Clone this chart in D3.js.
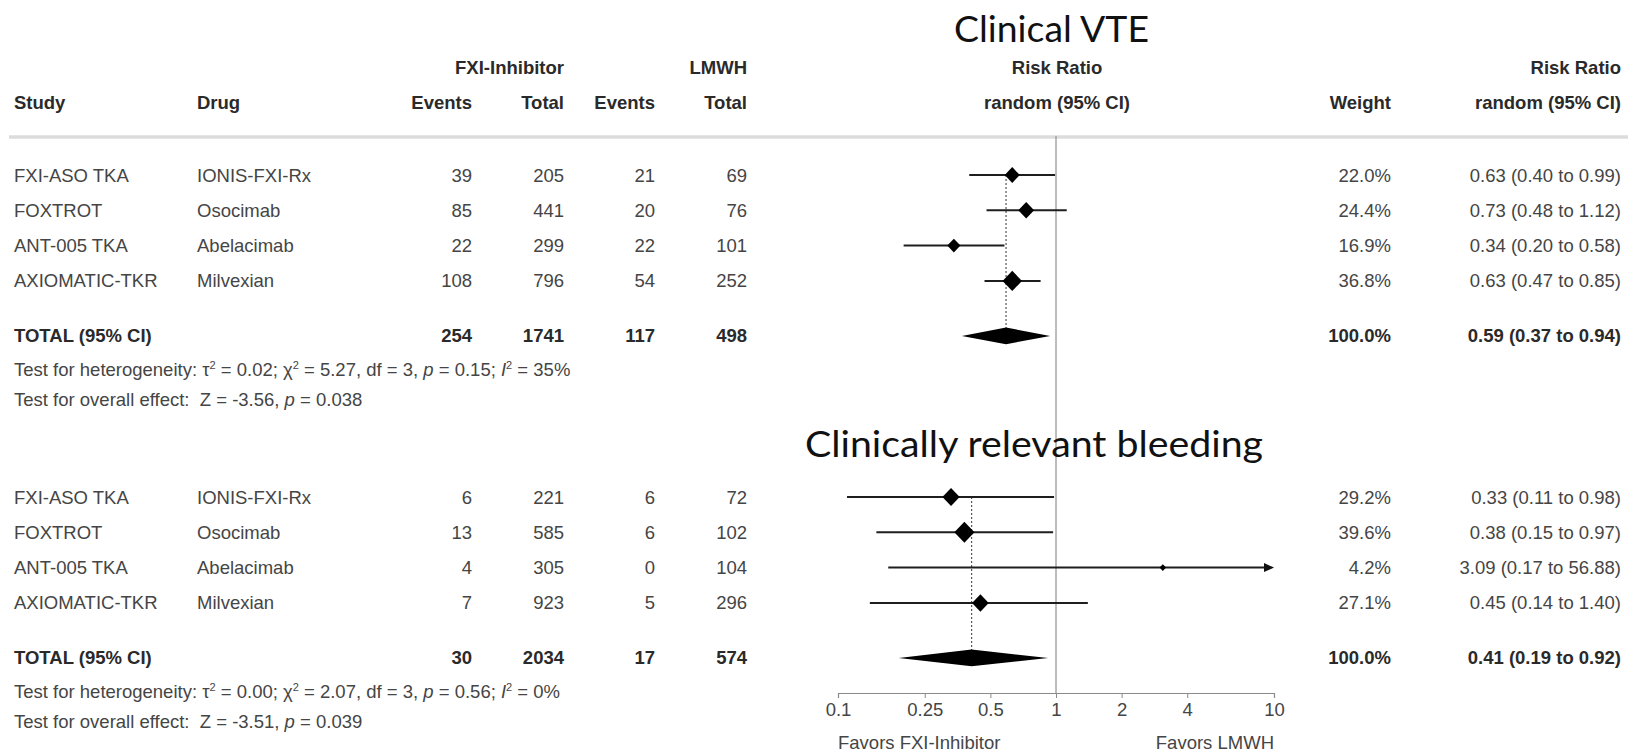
<!DOCTYPE html>
<html>
<head>
<meta charset="utf-8">
<script src="https://cdn.jsdelivr.net/npm/d3@7"></script>
<style>
  html, body { margin: 0; padding: 0; background: #fff; }
  svg { display: block; }
</style>
</head>
<body>
<svg id="chart" width="1628" height="754"></svg>
<script>
// ---------------- DATA ----------------
const studies = ["FXI-ASO TKA", "FOXTROT", "ANT-005 TKA", "AXIOMATIC-TKR"];
const drugs = ["IONIS-FXI-Rx", "Osocimab", "Abelacimab", "Milvexian"];
const outcomeTitles = ["Clinical VTE", "Clinically relevant bleeding"];
const tickValues = [0.1, 0.25, 0.5, 1, 2, 4, 10];
const tickLabels = ["0.1", "0.25", "0.5", "1", "2", "4", "10"];

// Clinical VTE
const vteEventsFxi = [39, 85, 22, 108];
const vteTotalFxi = [205, 441, 299, 796];
const vteEventsLmwh = [21, 20, 22, 54];
const vteTotalLmwh = [69, 76, 101, 252];
const vteRR = [0.63, 0.73, 0.34, 0.63];
const vteLo = [0.40, 0.48, 0.20, 0.47];
const vteHi = [0.99, 1.12, 0.58, 0.85];
const vteWeight = [22.0, 24.4, 16.9, 36.8];
const vteSum = [254, 1741, 117, 498];
const vtePooled = [0.59, 0.37, 0.94];
const vteHet = { tau2: "0.02", chi2: "5.27", df: "3", p: "0.15", i2: "35%" };
const vteOverall = { z: "-3.56", p: "0.038" };

// Clinically relevant bleeding
const blEventsFxi = [6, 13, 4, 7];
const blTotalFxi = [221, 585, 305, 923];
const blEventsLmwh = [6, 6, 0, 5];
const blTotalLmwh = [72, 102, 104, 296];
const blRR = [0.33, 0.38, 3.09, 0.45];
const blLo = [0.11, 0.15, 0.17, 0.14];
const blHi = [0.98, 0.97, 56.88, 1.40];
const blWeight = [29.2, 39.6, 4.2, 27.1];
const blSum = [30, 2034, 17, 574];
const blPooled = [0.41, 0.19, 0.92];
const blHet = { tau2: "0.00", chi2: "2.07", df: "3", p: "0.56", i2: "0%" };
const blOverall = { z: "-3.51", p: "0.039" };

// ---------------- LAYOUT ----------------
const FONT = "'Liberation Sans', Arial, sans-serif";
const FS = 18.5;
const BASE = 6.5; // center -> baseline offset
const BODY = "#454545";
const HEAD = "#2a2a2a";

const svg = d3.select("#chart");
svg.append("rect").attr("width", 1628).attr("height", 754).attr("fill", "#fff");

const x = d3.scaleLog().domain([0.1, 10]).range([838, 1274]);

const col = { study: 14, drug: 197, evF: 472, totF: 564, evL: 655, totL: 747, plot: 1057, weight: 1391, rr: 1621 };

function txt(g, xx, yc, s, opt = {}) {
  return g.append("text")
    .attr("x", xx).attr("y", yc + BASE)
    .attr("text-anchor", opt.anchor || "start")
    .attr("font-family", FONT)
    .attr("font-size", opt.size || FS)
    .attr("font-weight", opt.bold ? "bold" : "normal")
    .attr("fill", opt.fill || (opt.bold ? HEAD : BODY))
    .style("white-space", "pre")
    .text(s);
}

// ---------------- HEADER ----------------
const hdr = svg.append("g");
txt(hdr, col.totF, 67, "FXI-Inhibitor", { anchor: "end", bold: true });
txt(hdr, col.totL, 67, "LMWH", { anchor: "end", bold: true });
txt(hdr, col.plot, 67, "Risk Ratio", { anchor: "middle", bold: true });
txt(hdr, col.rr, 67, "Risk Ratio", { anchor: "end", bold: true });
txt(hdr, col.study, 102, "Study", { bold: true });
txt(hdr, col.drug, 102, "Drug", { bold: true });
txt(hdr, col.evF, 102, "Events", { anchor: "end", bold: true });
txt(hdr, col.totF, 102, "Total", { anchor: "end", bold: true });
txt(hdr, col.evL, 102, "Events", { anchor: "end", bold: true });
txt(hdr, col.totL, 102, "Total", { anchor: "end", bold: true });
txt(hdr, col.plot, 102, "random (95% CI)", { anchor: "middle", bold: true });
txt(hdr, col.weight, 102, "Weight", { anchor: "end", bold: true });
txt(hdr, col.rr, 102, "random (95% CI)", { anchor: "end", bold: true });

svg.append("line").attr("x1", 9).attr("x2", 1628).attr("y1", 137).attr("y2", 137)
  .attr("stroke", "#dcdcdc").attr("stroke-width", 3.5);

// ---------------- REFERENCE LINE (RR = 1) ----------------
svg.append("line").attr("x1", x(1)).attr("x2", x(1)).attr("y1", 136).attr("y2", 693)
  .attr("stroke", "#9a9a9a").attr("stroke-width", 1.3);

// ---------------- AXIS ----------------
const axis = d3.axisBottom(x).tickValues(tickValues)
  .tickFormat((d, i) => tickLabels[i]).tickSize(5).tickSizeOuter(5).tickPadding(5);
const axG = svg.append("g").attr("transform", "translate(0,693)").call(axis);
axG.select(".domain").attr("stroke", "#8a8a8a").attr("stroke-width", 1.2);
axG.selectAll(".tick line").attr("stroke", "#8a8a8a");
axG.selectAll(".tick text").attr("font-family", FONT).attr("font-size", FS).attr("fill", BODY);
txt(svg, x(0.1), 742, "Favors FXI-Inhibitor");
txt(svg, x(10), 742, "Favors LMWH", { anchor: "end" });

// ---------------- GROUPS ----------------
const fmt2 = d3.format(".2f");
const fmt1 = d3.format(".1f");

function drawGroup(o) {
  const g = svg.append("g");
  const y0 = o.y0, step = 35.3;
  const rowY = i => y0 + i * step;
  const totY = rowY(3) + 55;
  const hetY = totY + 34;
  const ovY = hetY + 30;

  // title
  g.append("text")
    .attr("x", o.titleX).attr("y", o.titleY)
    .attr("font-family", "Lato, 'Noto Sans', sans-serif")
    .attr("font-size", 36)
    .attr("fill", "#111")
    .attr("textLength", o.titleW).attr("lengthAdjust", "spacingAndGlyphs")
    .text(o.title);

  // pooled dotted line
  g.append("line")
    .attr("x1", x(o.pooled[0])).attr("x2", x(o.pooled[0]))
    .attr("y1", rowY(0)).attr("y2", totY)
    .attr("stroke", "#555").attr("stroke-width", 1.2).attr("stroke-dasharray", "2,2");

  studies.forEach((s, i) => {
    const y = rowY(i);
    txt(g, col.study, y, s);
    txt(g, col.drug, y, drugs[i]);
    txt(g, col.evF, y, o.evF[i], { anchor: "end" });
    txt(g, col.totF, y, o.totF[i], { anchor: "end" });
    txt(g, col.evL, y, o.evL[i], { anchor: "end" });
    txt(g, col.totL, y, o.totL[i], { anchor: "end" });
    txt(g, col.weight, y, fmt1(o.w[i]) + "%", { anchor: "end" });
    txt(g, col.rr, y, `${fmt2(o.rr[i])} (${fmt2(o.lo[i])} to ${fmt2(o.hi[i])})`, { anchor: "end" });

    const clipped = o.hi[i] > 10;
    const xHi = clipped ? x(10) - 8 : x(o.hi[i]);
    g.append("line").attr("x1", x(o.lo[i])).attr("x2", xHi).attr("y1", y).attr("y2", y)
      .attr("stroke", "#1e1e1e").attr("stroke-width", 2);
    if (clipped) {
      g.append("path")
        .attr("d", `M${x(10)},${y} L${x(10) - 10},${y - 4.5} L${x(10) - 10},${y + 4.5} Z`)
        .attr("fill", "#111");
    }
    const h = 1.6 * Math.sqrt(o.w[i]);
    const cx = x(o.rr[i]);
    g.append("path")
      .attr("d", `M${cx - h},${y} L${cx},${y - h * 1.05} L${cx + h},${y} L${cx},${y + h * 1.05} Z`)
      .attr("fill", "#000");
  });

  // totals
  txt(g, col.study, totY, "TOTAL (95% CI)", { bold: true });
  txt(g, col.evF, totY, o.sum[0], { anchor: "end", bold: true });
  txt(g, col.totF, totY, o.sum[1], { anchor: "end", bold: true });
  txt(g, col.evL, totY, o.sum[2], { anchor: "end", bold: true });
  txt(g, col.totL, totY, o.sum[3], { anchor: "end", bold: true });
  txt(g, col.weight, totY, "100.0%", { anchor: "end", bold: true });
  txt(g, col.rr, totY, `${fmt2(o.pooled[0])} (${fmt2(o.pooled[1])} to ${fmt2(o.pooled[2])})`, { anchor: "end", bold: true });
  const px = x(o.pooled[0]);
  g.append("path")
    .attr("d", `M${x(o.pooled[1])},${totY} L${px},${totY - 8.3} L${x(o.pooled[2])},${totY} L${px},${totY + 8.3} Z`)
    .attr("fill", "#000");

  // heterogeneity line
  const ht = txt(g, col.study, hetY, "");
  const sup = (s) => { ht.append("tspan").attr("dy", -7).attr("font-size", 11).text(s); };
  const norm = (s, back) => { ht.append("tspan").attr("dy", back ? 7 : 0).text(s); };
  const ital = (s) => { ht.append("tspan").attr("font-style", "italic").text(s); };
  norm("Test for heterogeneity: τ");
  sup("2");
  norm(` = ${o.het.tau2}; χ`, true);
  sup("2");
  norm(` = ${o.het.chi2}, df = ${o.het.df}, `, true);
  ital("p");
  norm(` = ${o.het.p}; `);
  ital("I");
  sup("2");
  norm(` = ${o.het.i2}`, true);

  const ot = txt(g, col.study, ovY, "");
  ot.append("tspan").text(`Test for overall effect:\u00a0 Z = ${o.ov.z}, `);
  ot.append("tspan").attr("font-style", "italic").text("p");
  ot.append("tspan").text(` = ${o.ov.p}`);
}

drawGroup({
  title: outcomeTitles[0], titleX: 954, titleY: 42, titleW: 195, y0: 175,
  evF: vteEventsFxi, totF: vteTotalFxi, evL: vteEventsLmwh, totL: vteTotalLmwh,
  rr: vteRR, lo: vteLo, hi: vteHi, w: vteWeight, sum: vteSum, pooled: vtePooled,
  het: vteHet, ov: vteOverall
});
drawGroup({
  title: outcomeTitles[1], titleX: 805, titleY: 457, titleW: 458, y0: 497,
  evF: blEventsFxi, totF: blTotalFxi, evL: blEventsLmwh, totL: blTotalLmwh,
  rr: blRR, lo: blLo, hi: blHi, w: blWeight, sum: blSum, pooled: blPooled,
  het: blHet, ov: blOverall
});
</script>
</body>
</html>
